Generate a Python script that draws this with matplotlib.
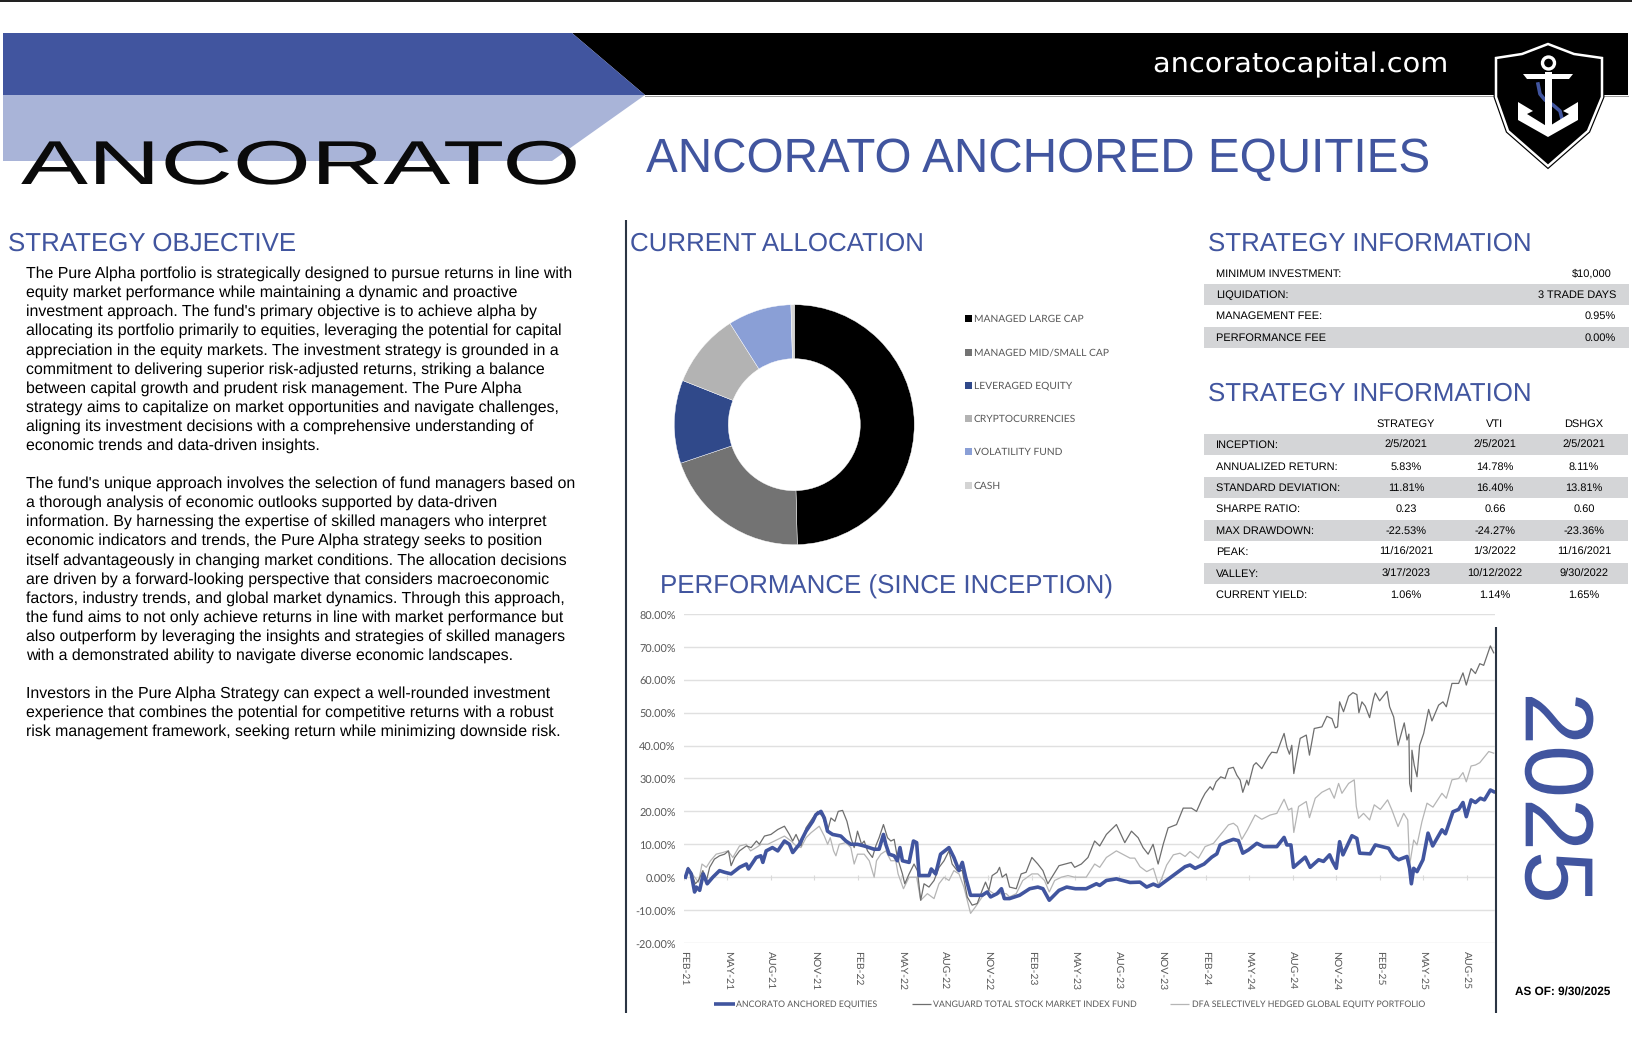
import matplotlib
matplotlib.use('Agg')
import matplotlib.pyplot as plt
import matplotlib.patheffects as pe
from matplotlib.patches import Polygon, Rectangle, Circle
from matplotlib.transforms import Affine2D, ScaledTranslation

plt.rcParams['text.hinting'] = 'no_hinting'
plt.rcParams['text.hinting_factor'] = 8

# Fonts and colours
ARIAL = 'Liberation Sans'
CALIBRI = 'Lato'
BLUE = '#41559f'
GREY_TEXT = '#595959'
BAND = '#d4d5d7'

# Allocation
allocation_names = ['MANAGED LARGE CAP', 'MANAGED MID/SMALL CAP', 'LEVERAGED EQUITY',
                    'CRYPTOCURRENCIES', 'VOLATILITY FUND', 'CASH']
allocation_values = [49.6, 20.2, 11.2, 10.0, 8.55, 0.45]
allocation_colors = ['#000000', '#737373', '#30498a', '#b3b3b3', '#8a9fd6', '#d4d4d4']

# Performance, x is months since Feb-21, y is percent
strategy_months = [0.1, 0.28, 0.5, 0.73, 0.85, 1.08, 1.33, 1.6, 1.99, 2.45, 2.8, 3.25, 3.83, 4.3, 4.45, 4.98, 5.3, 5.44,
                   5.67, 6.1, 6.47, 6.93, 7.27, 7.5, 7.96, 8.42, 8.88, 9.1, 9.45, 9.68, 9.9, 10.25, 10.82, 11.17, 11.51,
                   11.97, 12.43, 13.12, 13.46, 13.76, 13.92, 14.15, 14.5, 14.72, 14.9, 15.07, 15.53, 15.83, 16.05, 16.22,
                   16.9, 17.06, 17.36, 17.7, 18.28, 18.62, 18.97, 19.2, 19.43, 19.77, 20.57, 20.92, 21.15, 21.6, 21.9,
                   22.1, 22.46, 23.15, 23.85, 24.41, 24.76, 25.2, 25.87, 26.4, 27, 27.75, 28.45, 28.68, 29.14, 29.83,
                   30.77, 31.46, 31.92, 32.38, 32.73, 33.65, 34.57, 34.91, 35.26, 35.88, 36.41, 36.76, 36.99, 37.45, 37.9,
                   38.25, 38.55, 38.94, 39.52, 39.98, 40.9, 41.4, 41.59, 41.87, 42.05, 42.86, 43.2, 43.78, 44.12, 44.54,
                   44.74, 45, 45.23, 45.46, 46.08, 46.42, 46.61, 47.34, 47.69, 48.61, 48.96, 49.3, 49.88, 50.06, 50.18,
                   50.34, 50.57, 50.98, 51.33, 51.65, 52.29, 52.53, 53.05, 53.44, 53.74, 53.97, 54.3, 54.6, 54.94, 55.22,
                   55.63, 55.86]
strategy_values = [0, 2.5, 1, -4.5, -3, -4, 1, -2, 0, 2, 1.5, 1, 3, 4, 2.5, 6, 6.5, 4.5,
                   8, 9, 8, 11, 10, 7.5, 10, 14, 17, 19, 20, 18, 14, 13, 12.5, 11, 10,
                   10, 9.5, 8.5, 8.5, 13, 10, 7, 6.5, 5, 9, 5, 4.5, 11, 10.5, 0.5,
                   0.5, 2.5, 1, 7, 9, 6, 2, 4.5, 0, -5.5, -5.5, -4.5, -6, -5, -3.5,
                   -6.5, -6.5, -5.5, -3.5, -3, -3.5, -7, -4, -3, -3.5, -3.5, -2, -2.5, -1, -0.5,
                   -1.6, -1.5, -3, -2.1, -2.8, 0.2, 3.2, 3.7, 2.7, 4, 6.1, 7.1, 9.8, 10.8, 11.5,
                   11.1, 7.3, 8.3, 10.3, 9.3, 9.3, 12.1, 9.8, 9.8, 3, 6.1, 3, 5.3, 4.8, 6.8,
                   4.8, 2.7, 10.8, 6.8, 12.6, 11.8, 7.3, 7.1, 9.8, 8.8, 6.3, 5.3, 6.3, 2.7, -2,
                   2.7, 1.7, 5.3, 13.4, 9.5, 14.4, 13.2, 19.9, 20.6, 22.7, 18.4, 23.5, 22.7, 24, 23.5,
                   26.5, 26]

vti_months = [0.1, 0.28, 0.5, 0.78, 1.0, 1.3, 1.55, 1.77, 2.1, 2.45, 2.8, 3.07, 3.25, 3.5, 3.83, 4.3, 4.63, 5, 5.2, 5.55,
              6, 6.47, 6.93, 7.27, 7.5, 7.73, 8.07, 8.42, 8.88, 9.22, 9.56, 9.9, 10.14, 10.41, 10.64, 10.94, 11.24, 11.51,
              11.74, 11.97, 12.25, 12.43, 12.66, 13, 13.23, 13.46, 13.76, 14.04, 14.27, 14.5, 14.72, 15.07, 15.23, 15.53,
              15.87, 16.1, 16.33, 16.56, 16.9, 17.25, 17.6, 17.94, 18.28, 18.5, 18.85, 19.2, 19.54, 19.88, 20.23, 20.57,
              20.8, 21.03, 21.26, 21.6, 21.77, 21.95, 22.23, 22.46, 22.92, 23.26, 23.6, 24, 24.41, 24.76, 25.1, 25.45,
              25.87, 26.72, 26.95, 27.41, 27.87, 28.33, 28.68, 29.14, 29.83, 30.41, 30.87, 31.33, 31.67, 32.02, 32.36,
              32.71, 33.06, 33.4, 33.98, 34.44, 35.01, 35.36, 35.72, 35.95, 36.3, 36.48, 36.71, 37.03, 37.33, 37.56, 37.9,
              38.14, 38.37, 38.55, 38.83, 38.94, 39.29, 39.47, 39.86, 40.32, 40.55, 40.9, 41.18, 41.4, 41.59, 41.77, 41.93,
              42.07, 42.28, 42.51, 42.93, 43.15, 43.48, 44.01, 44.35, 44.7, 44.93, 45.09, 45.23, 45.5, 45.85, 46.15, 46.42,
              46.56, 46.77, 47, 47.3, 47.57, 47.69, 47.99, 48.5, 48.68, 48.96, 49.26, 49.69, 49.88, 50.01, 50.06, 50.18,
              50.22, 50.38, 50.57, 50.75, 51.03, 51.37, 51.6, 52.06, 52.36, 52.59, 52.98, 53.44, 53.74, 53.97, 54.3, 54.6,
              54.9, 55.17, 55.63, 55.86]
vti_values = [0, 3, 1.5, -2, -1, 2, -1, 3, 5.5, 6.5, 7, 8, 3.5, 6, 8, 9.5, 9, 11, 10, 12.5,
              13, 14.5, 15.5, 13, 11, 13, 9.5, 15, 18, 20, 18.5, 14, 18, 17, 20, 20.3, 17, 12,
              9, 14, 10, 11, 8, 6, 9.5, 12, 16, 12, 11, 11.5, 6, 1, -2, 1,
              4, 2, -7, -2, -3, -1, 3, 5, 8, 4, 2, 2, -6, -8.5, -8, -4,
              -1.5, -4, 0.5, 1.5, 3, 0, 1, -3, -3.5, 1, 1.5, 6, 4, 2, -2, 0.5,
              3.5, 4.5, 3, 4, 6, 11, 9.5, 13, 16, 10.5, 14, 12, 9, 7, 10,
              4, 10, 15, 16, 21, 21, 20, 23.6, 25.5, 27.5, 26.5, 29, 30.5, 30, 33, 33.4,
              31, 29.5, 25.8, 29.5, 28, 34, 34.8, 33, 36.6, 38, 37.8, 41.2, 43.7, 39.6, 37.4, 40.1,
              31.5, 36.6, 42.2, 43.2, 37.1, 45.2, 45.7, 48.9, 48.2, 45.4, 45.7, 53.3, 50.3, 55, 56.1, 55.5,
              50, 53.3, 52, 48.5, 54.3, 56, 53.6, 56.5, 51.8, 48.7, 40.1, 46.9, 41.7, 43.5, 28.5, 26,
              38.6, 34, 30.5, 40.1, 43.7, 51, 47.5, 52.3, 53.3, 51.8, 58.9, 58.9, 62.1, 58.4, 63.4, 61.9,
              64.9, 64.4, 70.3, 68.2]

dfa_months = [0.1, 0.32, 0.73, 1, 1.24, 1.54, 1.83, 2.22, 2.68, 3.03, 3.37, 3.83, 4.29, 4.59, 4.98, 5.32, 5.78, 6.24, 6.93,
              7.39, 7.73, 8.07, 8.42, 8.76, 9.33, 9.68, 9.91, 10.09, 10.32, 10.48, 10.71, 11.17, 11.51, 11.74, 11.97, 12.43,
              12.78, 13.12, 13.28, 13.58, 13.92, 14.27, 14.61, 14.77, 15.14, 15.53, 16.05, 16.33, 16.79, 17.25, 17.59, 17.94,
              18.28, 18.62, 18.97, 19.31, 19.77, 20.11, 20.57, 21.03, 21.37, 21.77, 22.23, 22.46, 22.92, 23.37, 24, 24.41,
              24.87, 25.2, 25.57, 26.03, 26.49, 26.95, 27.75, 28.33, 28.68, 29.14, 29.83, 30.77, 31.1, 31.46, 31.92, 32.38,
              32.73, 32.96, 33.3, 33.76, 34.22, 34.57, 34.91, 35.49, 35.95, 36.53, 37.1, 37.56, 37.9, 38.18, 38.48, 38.87,
              39.4, 39.86, 40.44, 40.9, 41.4, 41.7, 41.93, 42.07, 42.4, 42.93, 43.15, 43.55, 44, 44.54, 44.86, 45.16, 45.39,
              45.85, 46.24, 46.38, 46.54, 46.88, 47.3, 47.62, 48.04, 48.54, 48.84, 49.26, 49.65, 49.93, 50.06, 50.34, 50.57,
              50.91, 51.26, 51.67, 52.29, 52.59, 52.98, 53.44, 53.74, 53.97, 54.3, 54.6, 54.9, 55.52, 55.86]
dfa_values = [0, 2.5, 0, -1.5, 4, 3, 5, 7, 7.5, 8, 6, 9.5, 10, 8, 9, 10, 10, 11, 12.5,
              11, 9.5, 9, 12, 13.5, 15.5, 12.5, 10, 12, 8, 6.5, 10, 10.5, 9, 4, 7, 7,
              5, 0, 5, 7, 8, 5, 5, 1, -3.5, 0, 0, -7, -5, -6.5, -2, 0,
              -1, 2, 1, -3, -11, -9, -6, -4, -5, -5, -5, -6, -5, -1, 1, 1,
              -1, -4.5, -1, 0, 0.5, 0, 0, 4, 3, 6, 8, 5.8, 5.8, 3.2, 1.7, 2.7,
              -2.3, -0.3, 3.7, 6.8, 7.3, 6.3, 7.8, 5.8, 9.3, 10.3, 13.4, 15.9, 16.4, 15.4, 11.5, 14.4,
              18.9, 17.6, 18.9, 19.4, 23.7, 20.4, 21, 13.6, 21.5, 23, 18.1, 24, 25.8, 27, 24, 28.5, 25.5,
              28.5, 29.6, 21.5, 17.9, 19.4, 17.4, 22, 20.6, 23.5, 20.4, 15.4, 19.4, 17.4, 3.7, 11.3, 9.8,
              16.9, 22.5, 21.3, 25.5, 24, 29.6, 30, 31.8, 29, 33.8, 34.1, 34.8, 38.2, 37.7]

series_names = ['ANCORATO ANCHORED EQUITIES', 'VANGUARD TOTAL STOCK MARKET INDEX FUND',
                'DFA SELECTIVELY HEDGED GLOBAL EQUITY PORTFOLIO']
x_tick_months = list(range(0, 55, 3))
x_tick_labels = ['FEB-21', 'MAY-21', 'AUG-21', 'NOV-21', 'FEB-22', 'MAY-22', 'AUG-22', 'NOV-22', 'FEB-23', 'MAY-23',
                 'AUG-23', 'NOV-23', 'FEB-24', 'MAY-24', 'AUG-24', 'NOV-24', 'FEB-25', 'MAY-25', 'AUG-25']
y_ticks = [-20, -10, 0, 10, 20, 30, 40, 50, 60, 70, 80]

# Tables
fund_rows = [['MINIMUM INVESTMENT:', '$10,000'], ['LIQUIDATION:', '3 TRADE DAYS'],
             ['MANAGEMENT FEE:', '0.95%'], ['PERFORMANCE FEE', '0.00%']]
stat_columns = ['STRATEGY', 'VTI', 'DSHGX']
stat_rows = ['INCEPTION:', 'ANNUALIZED RETURN:', 'STANDARD DEVIATION:', 'SHARPE RATIO:', 'MAX DRAWDOWN:',
             'PEAK:', 'VALLEY:', 'CURRENT YIELD:']
stat_strategy = ['2/5/2021', '5.83%', '11.81%', '0.23', '-22.53%', '11/16/2021', '3/17/2023', '1.06%']
stat_vti = ['2/5/2021', '14.78%', '16.40%', '0.66', '-24.27%', '1/3/2022', '10/12/2022', '1.14%']
stat_dshgx = ['2/5/2021', '8.11%', '13.81%', '0.60', '-23.36%', '11/16/2021', '9/30/2022', '1.65%']

# Objective text, one paragraph per list
paragraph_1 = ['The Pure Alpha portfolio is strategically designed to pursue returns in line with',
               'equity market performance while maintaining a dynamic and proactive',
               "investment approach. The fund's primary objective is to achieve alpha by",
               'allocating its portfolio primarily to equities, leveraging the potential for capital',
               'appreciation in the equity markets. The investment strategy is grounded in a',
               'commitment to delivering superior risk-adjusted returns, striking a balance',
               'between capital growth and prudent risk management. The Pure Alpha',
               'strategy aims to capitalize on market opportunities and navigate challenges,',
               'aligning its investment decisions with a comprehensive understanding of',
               'economic trends and data-driven insights.']
paragraph_2 = ["The fund's unique approach involves the selection of fund managers based on",
               'a thorough analysis of economic outlooks supported by data-driven',
               'information. By harnessing the expertise of skilled managers who interpret',
               'economic indicators and trends, the Pure Alpha strategy seeks to position',
               'itself advantageously in changing market conditions. The allocation decisions',
               'are driven by a forward-looking perspective that considers macroeconomic',
               'factors, industry trends, and global market dynamics. Through this approach,',
               'the fund aims to not only achieve returns in line with market performance but',
               'also outperform by leveraging the insights and strategies of skilled managers',
               'with a demonstrated ability to navigate diverse economic landscapes.']
paragraph_3 = ['Investors in the Pure Alpha Strategy can expect a well-rounded investment',
               'experience that combines the potential for competitive returns with a robust',
               'risk management framework, seeking return while minimizing downside risk.']


# Widen a text around a pixel column, for the extended lettering
class StretchX(pe.AbstractPathEffect):
    def __init__(self, factor, x0):
        super().__init__()
        self.factor = factor
        self.x0 = x0

    def draw_path(self, renderer, gc, tpath, affine, rgbFace=None):
        stretch = Affine2D().translate(-self.x0, 0).scale(self.factor, 1).translate(self.x0, 0)
        renderer.draw_path(gc, tpath, affine + stretch, rgbFace)


W, H = 1632, 1058
fig = plt.figure(figsize=(W / 100, H / 100), dpi=100, facecolor='white')


def px_axes(left, top, right, bottom):
    return fig.add_axes([left / W, 1 - bottom / H, (right - left) / W, (bottom - top) / H])


# Whole page in pixels, used for the layout
page = fig.add_axes([0, 0, 1, 1])
page.set_xlim(0, W)
page.set_ylim(H, 0)
page.axis('off')

page.add_patch(Rectangle((0, 0), W, 2, color='#222222', lw=0))
page.add_patch(Polygon([(572, 33), (1628, 33), (1628, 95), (645, 95)], color='black', lw=0))
page.add_patch(Polygon([(3, 33), (572, 33), (645, 95), (3, 95)], color=BLUE, lw=0))
page.add_patch(Polygon([(3, 95), (645, 95), (552, 161), (3, 161)], color='#a9b4d8', lw=0))
page.plot([645, 1628], [95.5, 95.5], color='#9a9a9a', lw=0.7)

page.text(21, 184, 'ANCORATO', family=ARIAL, fontsize=44.6, color='#0a0a0a', va='baseline',
          path_effects=[StretchX(1.62, 21)])
page.text(1153, 72, 'ancoratocapital.com', family='DejaVu Sans', fontsize=19.5, color='white', va='baseline',
          path_effects=[StretchX(1.064, 1153)])
page.text(646, 172, 'ANCORATO ANCHORED EQUITIES', family=ARIAL, fontsize=34.3, color=BLUE, va='baseline')

# Shield with the anchor
shield = [(1548, 44), (1522, 54), (1496, 58), (1496, 97), (1508, 131), (1548, 166), (1588, 131), (1602, 97), (1602, 58), (1574, 54)]
page.add_patch(Polygon(shield, facecolor='black', edgecolor='black', lw=3.5, zorder=3))
page.add_patch(Polygon(shield, facecolor='black', edgecolor='white', lw=1.8, zorder=3))
page.plot([1538, 1540, 1545, 1553, 1560, 1562], [84, 94, 100, 105, 111, 119], color=BLUE, lw=2.6, zorder=4)
page.add_patch(Rectangle((1545, 72), 7, 60, color='white', lw=0, zorder=5))
page.add_patch(Polygon([(1523, 74), (1573, 74), (1569, 79), (1527, 79)], color='white', lw=0, zorder=5))
page.add_patch(Circle((1548.5, 63), 6, facecolor='none', edgecolor='white', lw=2.4, zorder=5))
page.add_patch(Polygon([(1518, 102), (1533, 111), (1527, 114), (1548, 127), (1569, 114), (1563, 111), (1578, 102),
                        (1578, 120), (1548, 137), (1518, 120)], color='white', lw=0, zorder=5))

# Section headings
headings = [('STRATEGY OBJECTIVE', 8, 250.5), ('CURRENT ALLOCATION', 630, 250.5), ('STRATEGY INFORMATION', 1208.5, 250.5),
            ('STRATEGY INFORMATION', 1208.5, 400.5), ('PERFORMANCE (SINCE INCEPTION)', 660.5, 594)]
for label, hx, hy in headings:
    page.text(hx, hy, label, family=ARIAL, fontsize=18.6, color=BLUE, va='baseline')

# Objective paragraphs
for lines, first_y in [(paragraph_1, 278), (paragraph_2, 488), (paragraph_3, 697.5)]:
    for i, line in enumerate(lines):
        page.text(26, first_y + i * 19.05, line, family=ARIAL, fontsize=11.44, color='black', va='baseline')

# Column rules
page.plot([626, 626], [220, 1013], color='#2b3544', lw=1.5, solid_capstyle='butt')
page.plot([1495.5, 1495.5], [627, 1013], color='#2b3544', lw=1.5, solid_capstyle='butt', zorder=6)

# First table
row_centers = [273, 294, 315, 337]
for (label, value), cy in zip(fund_rows, row_centers):
    if label in ('LIQUIDATION:', 'PERFORMANCE FEE'):
        page.add_patch(Rectangle((1204, cy - 10.5), 425, 21, color=BAND, lw=0))
    right = 1612 if value == '$10,000' else 1616
    page.text(1216.5, cy + 1, label, family=ARIAL, fontsize=7.9, va='center')
    page.text(right, cy + 1, value, family=ARIAL, fontsize=7.9, va='center', ha='right')

# Second table
stat_centers = [444, 466, 487, 508, 530, 551, 573, 594]
column_x = [1406, 1495, 1584]
for cx, name in zip(column_x, stat_columns):
    page.text(cx, 424, name, family=ARIAL, fontsize=7.9, va='center', ha='center')
for i, cy in enumerate(stat_centers):
    if i % 2 == 0:
        page.add_patch(Rectangle((1204, cy - 10.5), 424, 21, color=BAND, lw=0))
    page.text(1216, cy + 1, stat_rows[i], family=ARIAL, fontsize=7.9, va='center')
    for cx, column in zip(column_x, [stat_strategy, stat_vti, stat_dshgx]):
        page.text(cx, cy + 1, column[i], family=ARIAL, fontsize=7.9, va='center', ha='center')

# Year and date
page.text(1551, 798, '2025', family=ARIAL, fontsize=68.5, color=BLUE, rotation=270, ha='center', va='center',
          path_effects=[StretchX(1.02, 1566)])
page.text(1515, 992, 'AS OF: 9/30/2025', family=ARIAL, fontsize=8.45, fontweight='bold', va='center')

# Donut
donut = px_axes(794.3 - 121, 424.7 - 121, 794.3 + 121, 424.7 + 121)
donut.pie(allocation_values, colors=allocation_colors, startangle=90, counterclock=False, radius=1,
          wedgeprops=dict(width=0.45, edgecolor='white', linewidth=0.3))
donut.set_xlim(-1.0083, 1.0083)
donut.set_ylim(-1.0083, 1.0083)

legend_y = [318, 352, 385, 418, 451, 485]
for name, color, ly in zip(allocation_names, allocation_colors, legend_y):
    page.add_patch(Rectangle((965, ly - 3.5), 7, 7, color=color, lw=0))
    page.text(974, ly + 1, name, family=CALIBRI, fontsize=7.4, color=GREY_TEXT, va='center')

# Performance lines
perf = px_axes(684, 614, 1495, 943)
perf.patch.set_alpha(0)
perf.plot(dfa_months, dfa_values, color='#b5b5b5', lw=0.9, zorder=3)
perf.plot(vti_months, vti_values, color='#6e6e6e', lw=0.9, zorder=4)
perf.plot(strategy_months, strategy_values, color=BLUE, lw=2.6, zorder=5)
perf.vlines(x_tick_months, -0.8, 0.8, color='#d9d9d9', lw=0.8, zorder=2)
perf.set_xlim(0, 55.95)
perf.set_ylim(-20, 80)
perf.set_yticks(y_ticks)
perf.set_yticklabels([f'{v:.2f}%' for v in y_ticks], family=CALIBRI, fontsize=7.8, color=GREY_TEXT)
perf.set_xticks(x_tick_months)
perf.set_xticklabels(x_tick_labels, family=CALIBRI, fontsize=7.5, color=GREY_TEXT, rotation=270, ha='center', va='top')
perf.tick_params(axis='both', length=0)
perf.tick_params(axis='x', pad=6)
perf.tick_params(axis='y', pad=6)
perf.grid(axis='y', color='#e0e0e0', lw=1)
perf.set_axisbelow(True)
for spine in perf.spines.values():
    spine.set_visible(False)
# Percent labels sit a little lower than the grid lines
for label in perf.get_yticklabels():
    label.set_transform(label.get_transform() + ScaledTranslation(0, -1.5 / 100, fig.dpi_scale_trans))

# Line legend
legend_items = [(714, 735, 736, BLUE, 2.6), (912, 931, 933, '#6e6e6e', 0.9), (1170, 1189, 1192, '#b5b5b5', 0.9)]
for name, (x0, x1, tx, color, width) in zip(series_names, legend_items):
    page.plot([x0, x1], [1004, 1004], color=color, lw=width, solid_capstyle='butt')
    page.text(tx, 1004.5, name, family=CALIBRI, fontsize=6.32, color=GREY_TEXT, va='center')

fig.savefig('out.png', dpi=100)
